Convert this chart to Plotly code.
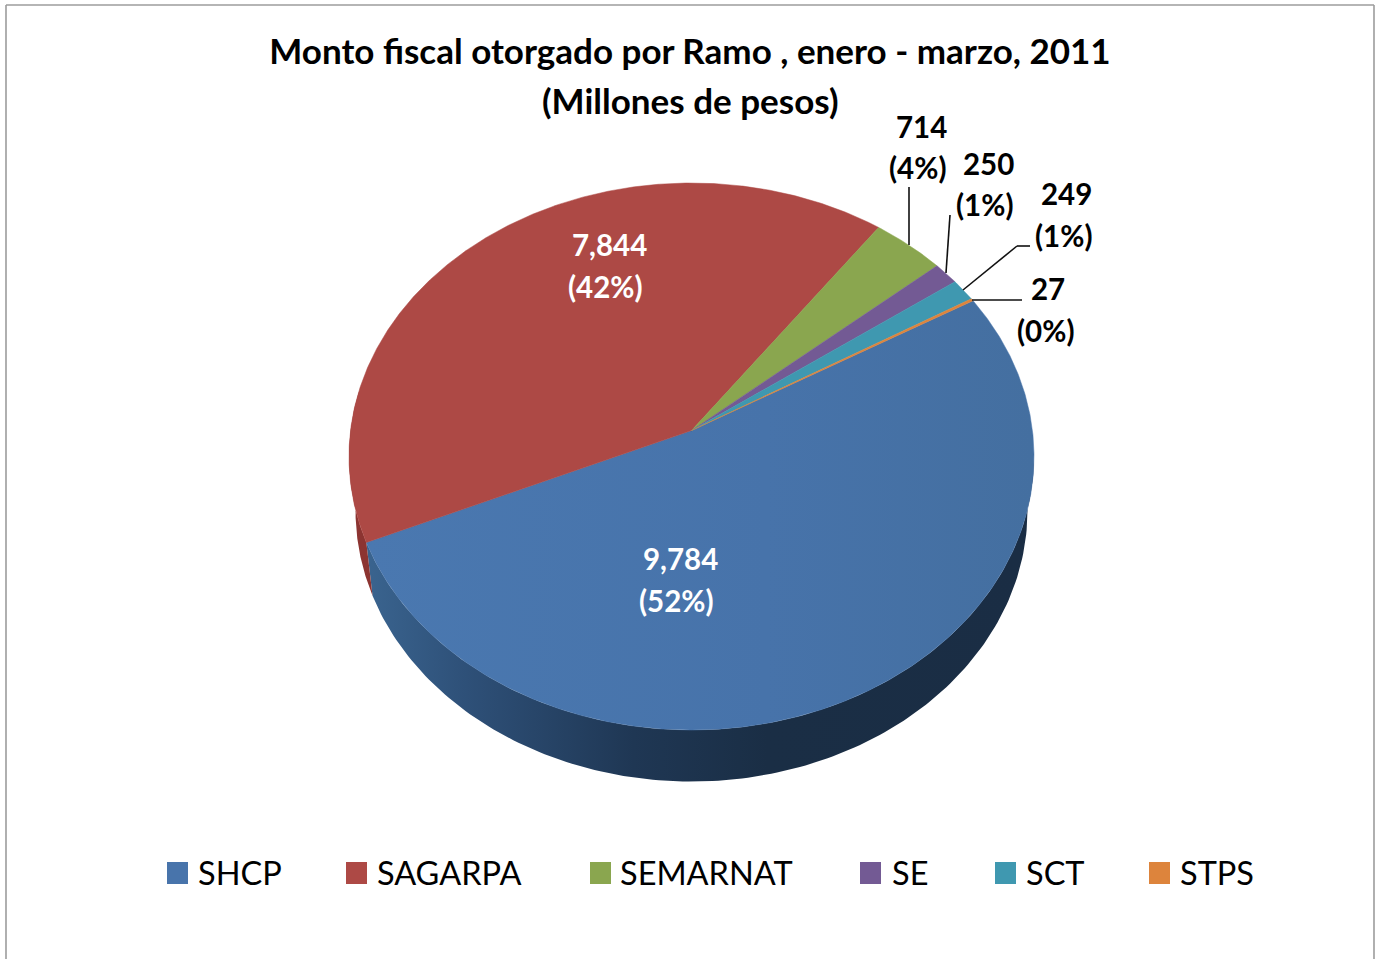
import numpy as np
import plotly.graph_objects as go

# ---- data ----
categories = ["SHCP", "SAGARPA", "SEMARNAT", "SE", "SCT", "STPS"]
values = [9784, 7844, 714, 250, 249, 27]
title_line1 = "Monto fiscal otorgado por Ramo , enero - marzo, 2011"
title_line2 = "(Millones de pesos)"

# ---- style ----
colors = ["#4874AB", "#AD4945", "#8AA64F", "#735A94", "#3F98B0", "#DD843C"]
W, H = 1376, 959
FONT = "Lato"

# pixel frame: unit circle of data space maps to the pie's top ellipse through the axes
CX, CY, RX, RY = 691.5, 456.5, 342.5, 273.5
APEX_Y = 0.095                    # perspective shift of the pie centre (data units)
B_CX, B_CY, B_RX, B_RY = 691.5, 510.5, 336.0, 271.0   # lower rim ellipse, pixels
START_DEG = 30.0


def px(x):
    return x / W


def py(y):
    return 1 - y / H


def rim(theta_deg):
    """Where a ray from the apex at true angle theta meets the unit circle."""
    t = np.radians(theta_deg)
    ux, uy = np.cos(t), np.sin(t)
    b = APEX_Y * uy
    r = -b + np.sqrt(b * b - (APEX_Y ** 2 - 1))
    return r * ux, APEX_Y + r * uy


total = sum(values)
fracs = [v / total for v in values]
# slices run clockwise from START_DEG, SHCP first
edges = [START_DEG]
for f in fracs:
    edges.append(edges[-1] - 360 * f)

fig = go.Figure()


def lower_xy(phi):
    """Point of the lower rim at ellipse parameter phi (radians), in data units."""
    x = B_CX + B_RX * np.cos(phi)
    y = B_CY - B_RY * np.sin(phi)
    return (x - CX) / RX, (CY - y) / RY


def wall(phi_a, phi_b, **style):
    phis = np.linspace(phi_a, phi_b, 160)
    xb, yb = lower_xy(phis)
    xt, yt = np.cos(phis[::-1]), np.sin(phis[::-1])
    fig.add_trace(go.Scatter(
        x=np.r_[xt, xb], y=np.r_[yt, yb], mode="lines", fill="toself",
        line=dict(width=0), hoverinfo="skip", showlegend=False, **style))


# side walls
x0, y0 = rim(edges[1])
phi_edge = np.arctan2(y0, x0)            # SHCP / SAGARPA boundary, on the rim
if phi_edge > 0:
    phi_edge -= 2 * np.pi
wall(phi_edge, 0.0, fillcolor="#1A2E45", fillgradient=dict(
    type="horizontal",
    colorscale=[[0, "#3A648F"], [0.15, "#2E5078"], [0.4, "#1F3754"], [0.6, "#1A2E45"], [1, "#1A2D44"]]))
wall(phi_edge, phi_edge - np.radians(32), fillcolor="#8C3431")

# top slices
for i, name in enumerate(categories):
    th = np.linspace(edges[i], edges[i + 1], max(4, int(abs(edges[i + 1] - edges[i]) * 3)))
    rx, ry = rim(th)
    kw = {}
    if i == 0:
        kw["fillgradient"] = dict(type="horizontal", colorscale=[[0, "#4A78B0"], [0.6, "#4773AA"], [1, "#446FA0"]])
    fig.add_trace(go.Scatter(
        x=np.r_[0, rx, 0], y=np.r_[APEX_Y, ry, APEX_Y], mode="lines", fill="toself",
        fillcolor=colors[i], line=dict(width=0.5, color=colors[i]),
        name=name, showlegend=False, hovertemplate=f"{name}: {values[i]:,}<extra></extra>", **kw))

shapes = []
# chart frame (no bottom edge)
for a, b, c, d in [(6, 959, 6, 5), (6, 5, 1374, 5), (1374, 5, 1374, 959)]:
    shapes.append(dict(type="line", xref="paper", yref="paper", x0=px(a), y0=py(b), x1=px(c), y1=py(d),
                       line=dict(color="#9C9C9C", width=1.6)))
# leader lines
leaders = [
    [(909, 187), (909, 245)],
    [(950, 215), (946, 273)],
    [(1030, 246), (1017, 246), (963, 290)],
    [(1022, 300), (972, 300)],
]
for seg in leaders:
    for (a, b), (c, d) in zip(seg, seg[1:]):
        shapes.append(dict(type="line", xref="paper", yref="paper", x0=px(a), y0=py(b), x1=px(c), y1=py(d),
                           line=dict(color="#111111", width=1.6)))
# legend swatches
swatch_x = [167, 346, 590, 860, 995, 1149]
for x, c in zip(swatch_x, colors):
    shapes.append(dict(type="rect", xref="paper", yref="paper", x0=px(x), x1=px(x + 21), y0=py(884), y1=py(862),
                       fillcolor=c, line=dict(width=0)))

annotations = []


def text(x, y, s, size, color="black", bold=True, anchor="center"):
    annotations.append(dict(
        xref="paper", yref="paper", x=px(x), y=py(y), text=f"<b>{s}</b>" if bold else s, showarrow=False,
        xanchor=anchor, yanchor="middle", font=dict(family=FONT, size=size, color=color)))


text(690, 100, title_line2, 35)

label_pos = [((680, 558), (676, 600)), ((609, 244), (605, 286)), ((921, 126), (917, 167)),
             ((988, 163), (984, 205)), ((1066, 194), (1063, 235)), ((1048, 289), (1045, 330))]
for i, (p1, p2) in enumerate(label_pos):
    col = "white" if i < 2 else "black"
    text(p1[0], p1[1], f"{values[i]:,}", 29.5, col)
    text(p2[0], p2[1], f"({fracs[i] * 100:.0f}%)", 29.5, col)

legend_text_x = [196, 375, 618, 890, 1024, 1178]
for x, name in zip(legend_text_x, categories):
    text(x, 872, name, 32.5, bold=False, anchor="left")

fig.update_layout(
    width=W, height=H, margin=dict(l=0, r=0, t=0, b=0, pad=0),
    paper_bgcolor="white", plot_bgcolor="white", showlegend=False,
    title=dict(text=f"<b>{title_line1}</b>", x=690 / W, xanchor="center", y=py(52), yanchor="middle",
               font=dict(family=FONT, size=35, color="black")),
    xaxis=dict(range=[(0 - CX) / RX, (W - CX) / RX], visible=False, fixedrange=True),
    yaxis=dict(range=[(CY - H) / RY, CY / RY], visible=False, fixedrange=True),
    shapes=shapes, annotations=annotations,
)

fig.write_html("out.html", config={"displayModeBar": False},
               post_script="document.body.style.margin='0';document.body.style.overflow='hidden';")
